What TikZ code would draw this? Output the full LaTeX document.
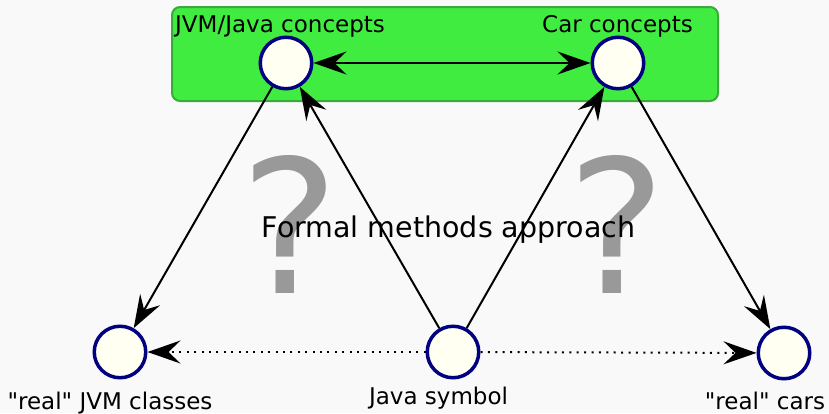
\documentclass[tikz,border=0pt]{standalone}
\usepackage{fontspec}
\setmainfont[Ligatures=TeXOff]{DejaVu Sans}
\usetikzlibrary{arrows.meta}
\definecolor{bgc}{HTML}{F9F9F9}
\definecolor{boxgreen}{HTML}{40EC40}
\definecolor{boxedge}{HTML}{3AAA3A}
\definecolor{navyc}{HTML}{000080}
\definecolor{ivoryc}{HTML}{FFFFF2}
\definecolor{qgray}{HTML}{999999}
\begin{document}
\begin{tikzpicture}[x=1pt,y=-1pt,
  concept/.style={circle,draw=navyc,line width=3.5pt,fill=ivoryc,minimum size=51.5pt,inner sep=0pt},
  lbl/.style={font=\fontsize{23}{28}\selectfont,inner sep=0pt},
  tipc/.tip={Stealth[length=33pt,width=23pt,inset=12pt]},
  edge/.style={line width=2pt,-tipc},
  dbledge/.style={line width=2pt,tipc-tipc},
  dotedge/.style={line width=2pt,dash pattern=on 2pt off 5.4pt,-tipc},
  areabox/.style={draw=boxedge,fill=boxgreen,rounded corners=8pt,line width=2pt,minimum width=546pt,minimum height=94pt,inner sep=0pt},
  qmark/.style={font=\fontsize{186}{200}\selectfont,text=qgray,inner sep=0pt,anchor=base}]
\useasboundingbox[fill=bgc] (0,0) rectangle (829,413);
\node[areabox] (area) at (445,54) {};
\node[qmark] (q1) at (289.5,293) {?};
\node[qmark] (q2) at (616.5,293) {?};
\node[concept] (jvm) at (286,63) {};
\node[concept] (car) at (618,63) {};
\node[concept] (rjvm) at (120,352) {};
\node[concept] (sym) at (453,352) {};
\node[concept] (rcar) at (784,353) {};
\draw[dbledge] (jvm) -- (car);
\draw[edge] (jvm) -- (rjvm);
\draw[edge] (sym) -- (jvm);
\draw[edge] (sym) -- (car);
\draw[edge] (car) -- (rcar);
\draw[dotedge] (sym) -- (rjvm);
\draw[dotedge] (sym) -- (rcar);
\node[lbl,anchor=base west] (jvmlbl) at (175,32) {JVM/Java concepts};
\node[lbl,anchor=base east] (carlbl) at (693,32) {Car concepts};
\node[lbl,anchor=base] (rjvmlbl) at (110,409) {"real" JVM classes};
\node[lbl,anchor=base] (symlbl) at (438.5,404) {Java symbol};
\node[lbl,anchor=base] (rcarlbl) at (765,409) {"real" cars};
\node[font=\fontsize{28.5}{34}\selectfont,inner sep=0pt,anchor=base] (fm) at (448.5,237) {Formal methods approach};
\end{tikzpicture}
\end{document}
